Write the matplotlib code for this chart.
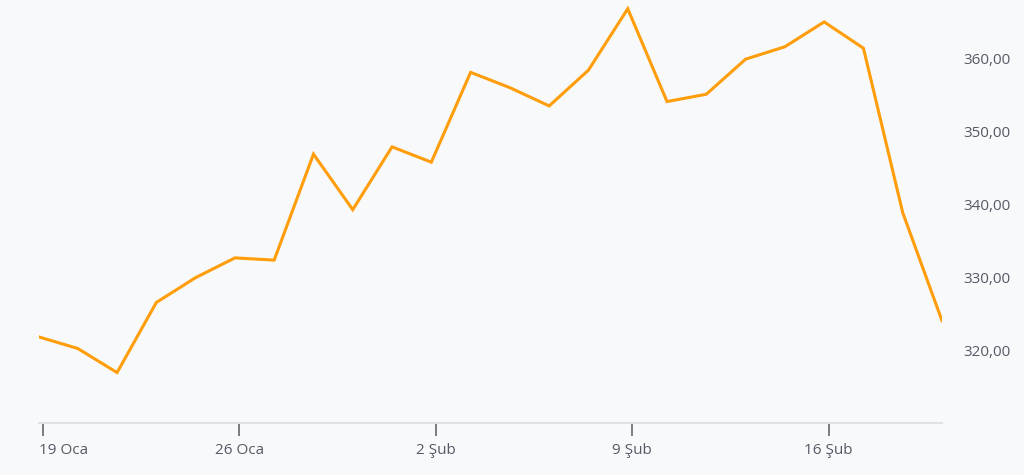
import matplotlib.pyplot as plt
import matplotlib.transforms as mtransforms
import numpy as np

# trading days, 19 Oca .. 19 Şub
values = [321.9, 320.3, 317.0, 326.6, 330.0, 332.7, 332.4, 346.9, 339.3, 347.9,
          345.8, 358.1, 356.0, 353.5, 358.4, 366.8, 354.1, 355.1, 359.9, 361.6,
          365.0, 361.4, 338.9, 324.1]
tick_idx = [0, 5, 10, 15, 20]
tick_labels = ["19 Oca", "26 Oca", "2 Şub", "9 Şub", "16 Şub"]
y_ticks = [320, 330, 340, 350, 360]

plt.rcParams['font.family'] = ['Open Sans', 'DejaVu Sans']
bg = '#f8f9fa'
fig = plt.figure(figsize=(10.24, 4.75), dpi=100, facecolor=bg)
ax = fig.add_axes([38.5/1024, 52/475, (942-38.5)/1024, 423/475])
ax.set_facecolor(bg)

x = np.arange(len(values))
ax.plot(x, values, color='#ff9d0a', lw=2.2, solid_joinstyle='miter')

ax.set_xlim(0, len(values) - 1)
ax.set_ylim(310.1, 368.0)

for s in ['top', 'left', 'right']:
    ax.spines[s].set_visible(False)
ax.spines['bottom'].set_color('#e0e2e8')
ax.spines['bottom'].set_linewidth(1.5)

# ticks sit at midnight, a little after the first data point of the day
ax.set_xticks([i + 0.115 for i in tick_idx])
ax.set_xticklabels(tick_labels)
ax.tick_params(axis='x', length=9.5, width=1.2, color='#666666', labelcolor='#555a66',
               labelsize=11, pad=5)
# first label is pushed right so it doesn't get cut at the edge
first = ax.get_xticklabels()[0]
first.set_horizontalalignment('left')
first.set_transform(first.get_transform() +
                    mtransforms.ScaledTranslation(-4.5/100, 0, fig.dpi_scale_trans))

ax.yaxis.tick_right()
ax.set_yticks(y_ticks)
ax.set_yticklabels([f"{v},00" for v in y_ticks])
ax.tick_params(axis='y', length=0, labelsize=11, colors='#555a66', pad=15.5)

fig.savefig('out.png', dpi=100, facecolor=bg)
